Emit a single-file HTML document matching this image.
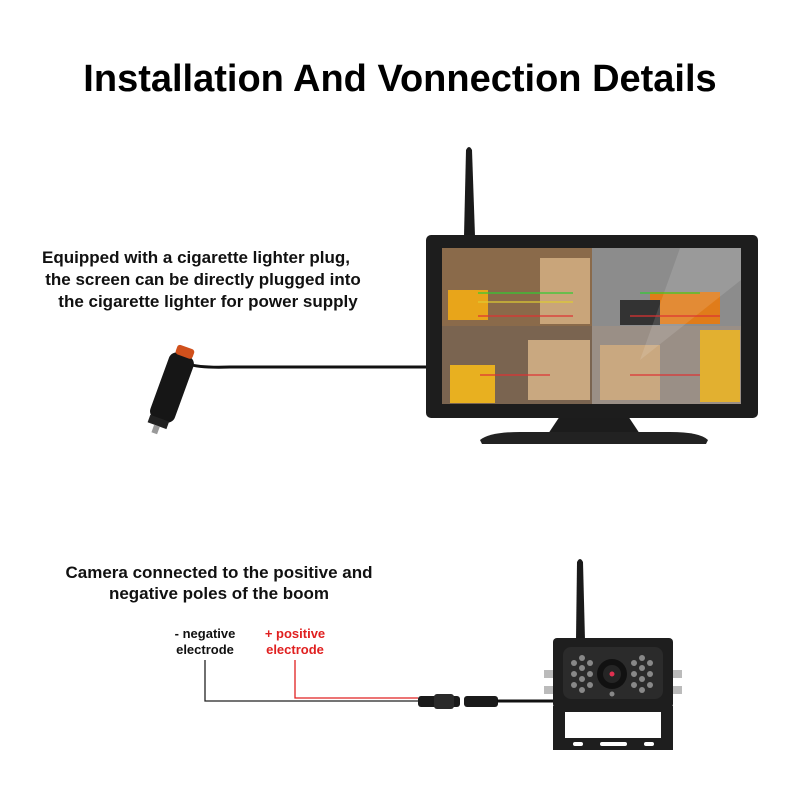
<!DOCTYPE html>
<html><head><meta charset="utf-8"><style>
html,body{margin:0;padding:0;background:#fff}
svg{display:block}
text{font-family:"Liberation Sans",Arial,sans-serif}
</style></head><body>
<svg width="800" height="800" viewBox="0 0 800 800" xmlns="http://www.w3.org/2000/svg">
<rect width="800" height="800" fill="#fff"/>
<text x="400" y="91" text-anchor="middle" font-size="38" font-weight="bold" fill="#000">Installation And Vonnection Details</text>

<g font-size="17" font-weight="bold" fill="#111" text-anchor="middle">
<text x="196" y="263">Equipped with a cigarette lighter plug,</text>
<text x="203" y="285">the screen can be directly plugged into</text>
<text x="208" y="307">the cigarette lighter for power supply</text>
<text x="219" y="578">Camera connected to the positive and</text>
<text x="219" y="599">negative poles of the boom</text>
</g>
<g font-size="13" font-weight="bold" text-anchor="middle">
<text x="205" y="638" fill="#111">- negative</text>
<text x="205" y="654" fill="#111">electrode</text>
<text x="295" y="638" fill="#e02020">+ positive</text>
<text x="295" y="654" fill="#e02020">electrode</text>
</g>

<!-- monitor antenna -->
<path d="M464 236 L466 150 Q469 144 472 150 L475 236 Z" fill="#1a1a1a"/>
<!-- monitor cable -->
<path d="M188 364 Q200 368 230 367 L428 367" stroke="#111" stroke-width="3" fill="none"/>
<!-- stand -->
<path d="M560 416 L628 416 L640 434 L548 434 Z" fill="#1c1c1c"/>
<path d="M480 440 Q490 432 520 432 L670 432 Q700 432 708 440 L706 444 L482 444 Z" fill="#222"/>
<!-- monitor -->
<rect x="426" y="235" width="332" height="183" rx="5" fill="#1d1d1d"/>
<rect x="442" y="248" width="299" height="156" fill="#555"/>
<rect x="442" y="248" width="150" height="78" fill="#8a6a4a"/>
<rect x="540" y="258" width="50" height="66" fill="#c9a57a"/>
<rect x="448" y="290" width="40" height="30" fill="#e8a51a"/>
<rect x="592" y="248" width="149" height="78" fill="#8c8c8c"/>
<rect x="650" y="292" width="70" height="32" fill="#e07c1a"/>
<rect x="620" y="300" width="40" height="25" fill="#333"/>
<rect x="442" y="326" width="150" height="78" fill="#7a6450"/>
<rect x="528" y="340" width="62" height="60" fill="#c9a880"/>
<rect x="450" y="365" width="45" height="38" fill="#e8b020"/>
<rect x="592" y="326" width="149" height="78" fill="#9a8f86"/>
<rect x="600" y="345" width="60" height="55" fill="#c9a880"/>
<rect x="700" y="330" width="40" height="72" fill="#e2b030"/>
<path d="M680 248 L741 248 L741 280 L640 360 Z" fill="#fff" opacity="0.12"/>
<g stroke-width="1.2" fill="none">
<line x1="478" y1="293" x2="573" y2="293" stroke="#3c3"/>
<line x1="478" y1="302" x2="573" y2="302" stroke="#dc3"/>
<line x1="478" y1="316" x2="573" y2="316" stroke="#d33"/>
<line x1="640" y1="293" x2="700" y2="293" stroke="#3c3"/>
<line x1="630" y1="316" x2="720" y2="316" stroke="#d33"/>
<line x1="480" y1="375" x2="550" y2="375" stroke="#d33"/>
<line x1="630" y1="375" x2="700" y2="375" stroke="#d33"/>
</g>

<!-- cigarette plug -->
<g transform="rotate(20 170 390)">
<rect x="158" y="352" width="26" height="70" rx="8" fill="#161616"/>
<rect x="162" y="344" width="18" height="10" rx="3" fill="#d0501c"/>
<rect x="160" y="420" width="20" height="8" fill="#222"/>
<rect x="167" y="428" width="6" height="8" fill="#999"/>
</g>

<!-- camera wiring -->
<polyline points="205,660 205,701 418,701" stroke="#222" stroke-width="1.3" fill="none"/>
<polyline points="295,660 295,698 418,698" stroke="#e02020" stroke-width="1.3" fill="none"/>
<rect x="418" y="696" width="42" height="11" rx="3" fill="#1a1a1a"/>
<rect x="434" y="694" width="20" height="15" rx="3" fill="#2a2a2a"/>
<rect x="464" y="696" width="34" height="11" rx="3" fill="#1a1a1a"/>
<line x1="497" y1="701" x2="555" y2="701" stroke="#111" stroke-width="3"/>

<!-- camera -->
<path d="M576 640 L577 562 Q580 556 583 562 L585 640 Z" fill="#1a1a1a"/>
<rect x="544" y="670" width="10" height="8" fill="#bbb"/>
<rect x="544" y="686" width="10" height="8" fill="#bbb"/>
<rect x="672" y="670" width="10" height="8" fill="#bbb"/>
<rect x="672" y="686" width="10" height="8" fill="#bbb"/>
<path d="M553 706 L673 706 L673 750 L553 750 Z M565 712 L565 738 L661 738 L661 712 Z" fill="#1e1e1e" fill-rule="evenodd"/>
<rect x="553" y="638" width="120" height="70" rx="4" fill="#1e1e1e"/>
<rect x="563" y="647" width="100" height="52" rx="8" fill="#2b2b2b"/>
<circle cx="612" cy="674" r="15" fill="#111"/>
<circle cx="612" cy="674" r="9" fill="#252525"/>
<circle cx="612" cy="674" r="2.5" fill="#e03050"/>
<g fill="#888">
<circle cx="574" cy="663" r="3"/><circle cx="582" cy="658" r="3"/><circle cx="590" cy="663" r="3"/>
<circle cx="574" cy="674" r="3"/><circle cx="582" cy="668" r="3"/><circle cx="590" cy="674" r="3"/>
<circle cx="574" cy="685" r="3"/><circle cx="582" cy="679" r="3"/><circle cx="590" cy="685" r="3"/><circle cx="582" cy="690" r="3"/>
<circle cx="634" cy="663" r="3"/><circle cx="642" cy="658" r="3"/><circle cx="650" cy="663" r="3"/>
<circle cx="634" cy="674" r="3"/><circle cx="642" cy="668" r="3"/><circle cx="650" cy="674" r="3"/>
<circle cx="634" cy="685" r="3"/><circle cx="642" cy="679" r="3"/><circle cx="650" cy="685" r="3"/><circle cx="642" cy="690" r="3"/>
<circle cx="612" cy="694" r="2.5"/>
</g>
<g fill="#fff"><rect x="573" y="742" width="10" height="4" rx="2"/><rect x="600" y="742" width="27" height="4" rx="2"/><rect x="644" y="742" width="10" height="4" rx="2"/></g>
</svg>
</body></html>
